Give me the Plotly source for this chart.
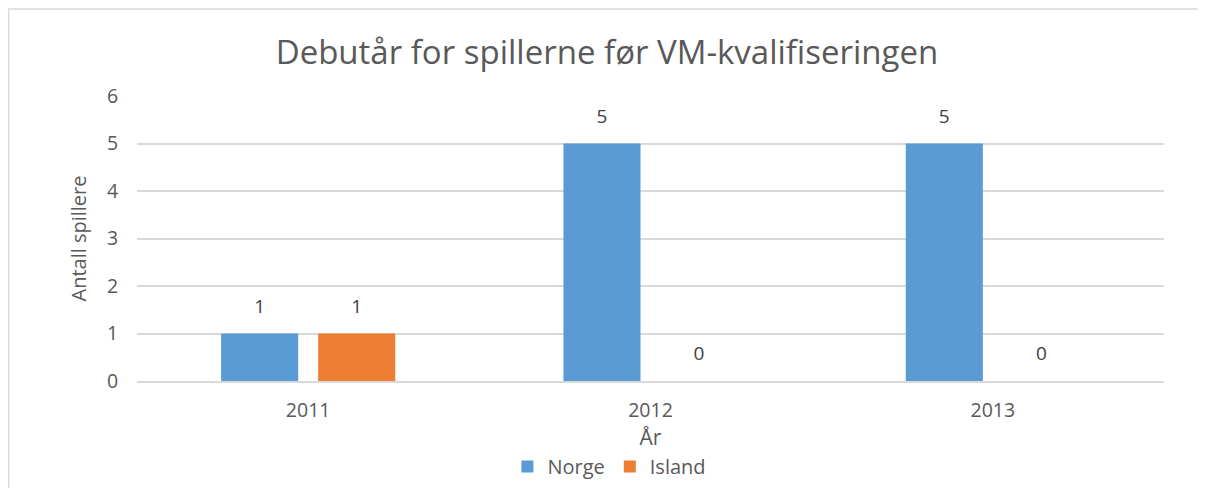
import plotly.graph_objects as go

years = ["2011", "2012", "2013"]
norge = [1, 5, 5]
island = [1, 0, 0]

TEXT = "#595959"
FONT = "Open Sans, Liberation Sans, sans-serif"
LABEL_PAD = 0.25  # data units: lifts the value labels above the bars like Excel

fig = go.Figure()
series = [("Norge", norge, "#5b9bd5"), ("Island", island, "#ed7d31")]
for name, vals, color in series:
    fig.add_trace(go.Bar(x=years, y=vals, name=name, offsetgroup=name,
                         marker=dict(color=color, line=dict(width=0))))
    # invisible twin bar, only used to carry the value label a little higher
    fig.add_trace(go.Bar(x=years, y=vals, base=[LABEL_PAD] * len(vals),
                         offsetgroup=name, showlegend=False, hoverinfo="skip",
                         marker=dict(color="rgba(0,0,0,0)", line=dict(width=0)),
                         text=vals, textposition="outside", cliponaxis=False,
                         constraintext="none",
                         textfont=dict(color="#404040", size=19)))

# light frame around the chart area (like the Excel chart border)
fig.add_shape(type="rect", xref="paper", yref="paper",
              x0=-0.125, x1=1.08, y0=-0.5, y1=1.305,
              line=dict(color="#d9d9d9", width=1.5), layer="below")

fig.update_layout(
    width=1198, height=480,
    margin=dict(l=129, r=42, t=88, b=107, autoexpand=False),
    paper_bgcolor="white", plot_bgcolor="white",
    font=dict(family=FONT, color=TEXT, size=19),
    title=dict(text="Debutår for spillerne før VM-kvalifiseringen",
               x=0.5, xanchor="center", y=0.908, yanchor="middle",
               font=dict(size=33, color=TEXT)),
    barmode="group", bargap=0.433, bargroupgap=0.206,
    showlegend=True,
    legend=dict(orientation="h", x=0.46, xanchor="center",
                y=-0.30, yanchor="middle",
                font=dict(size=20, color=TEXT), itemwidth=30, traceorder="normal"),
    xaxis=dict(type="category",
               title=dict(text="År", font=dict(size=21), standoff=5),
               showline=True, linecolor="#d9d9d9", linewidth=1.5, automargin=False,
               ticks="outside", ticklen=11, tickcolor="rgba(0,0,0,0)",
               tickfont=dict(size=19.5)),
    yaxis=dict(title=dict(text="Antall spillere", font=dict(size=20), standoff=14),
               range=[0, 6], dtick=1, gridcolor="#d9d9d9", gridwidth=1.5, automargin=False,
               zeroline=False, ticks="outside", ticklen=14, tickcolor="rgba(0,0,0,0)",
               tickfont=dict(size=19.5)),
)

fig.write_html("out.html", config={"displayModeBar": False})
